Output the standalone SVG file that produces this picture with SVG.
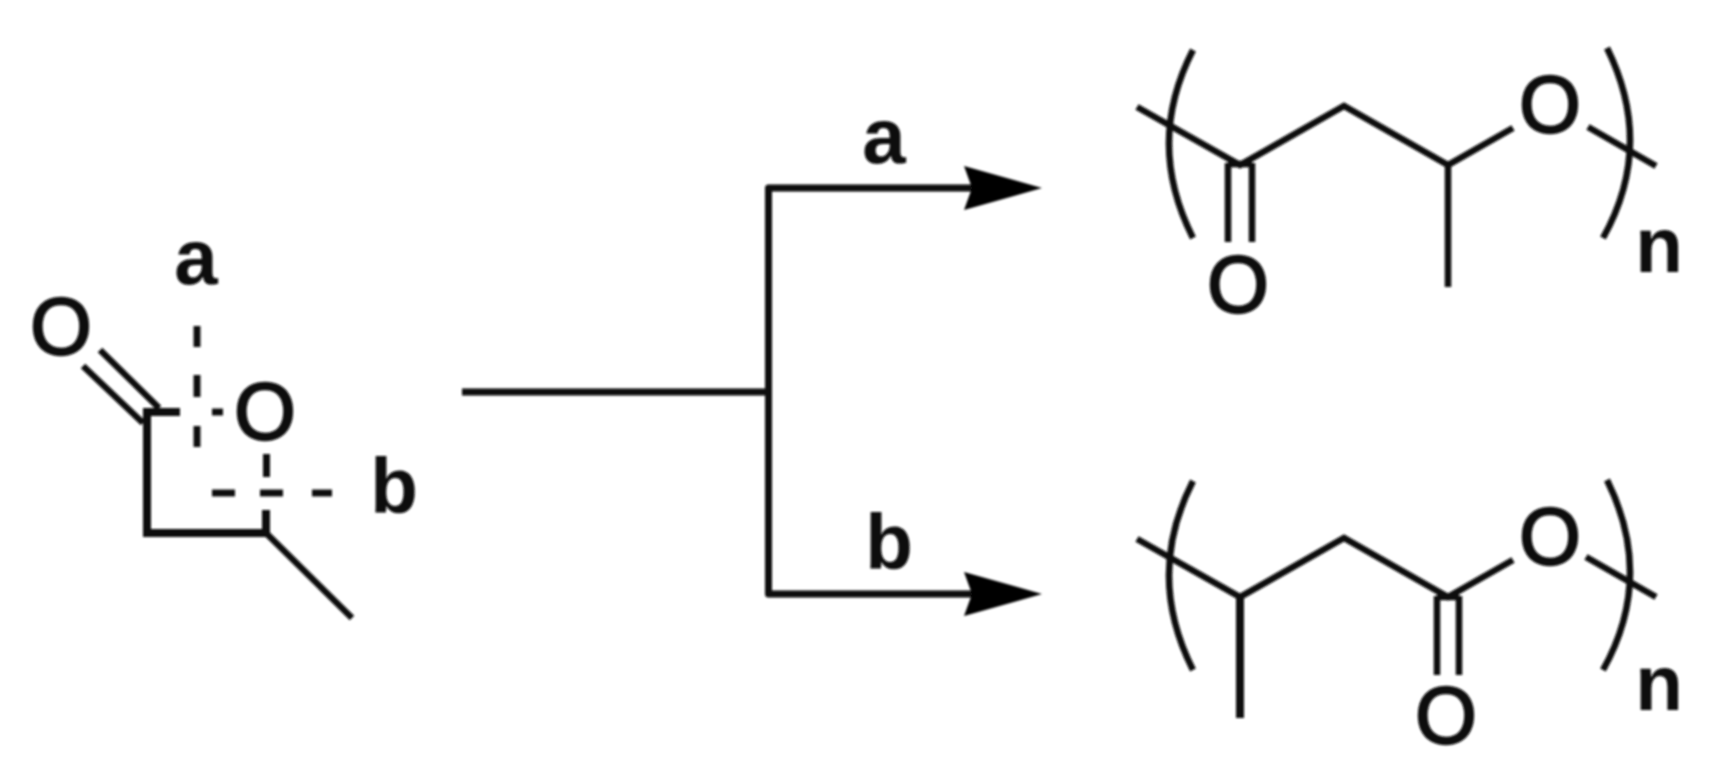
<svg xmlns="http://www.w3.org/2000/svg" width="1735" height="771" viewBox="0 0 1735 771">
<style>
.b{fill:none;stroke:#111;stroke-width:6.500;stroke-linecap:butt;stroke-linejoin:miter}
.w{stroke-width:8}
.d{fill:none;stroke:#111;stroke-width:7}
.c{fill:none;stroke:#0c0c0c;stroke-width:7;stroke-linejoin:round}
text{font-family:"Liberation Sans",Arial,sans-serif;fill:#0c0c0c;font-size:78px}
.o{text-anchor:middle;font-size:79px;stroke:#0c0c0c;stroke-width:2.400}
.l{font-weight:bold;text-anchor:middle}
</style>
<defs>
<filter id="s" x="-5%" y="-5%" width="110%" height="110%"><feGaussianBlur stdDeviation="0.9"/></filter>
<marker id="h" markerUnits="userSpaceOnUse" markerWidth="80" markerHeight="48" refX="8" refY="24" orient="auto"><path d="M0,2 L78,24 L0,46 L8,24 Z" fill="#000"/></marker>
</defs>
<rect width="1735" height="771" fill="#fff"/>
<g filter="url(#s)">
<g id="connectors">
<path class="c" d="M462,392 H768"/>
<path class="c" d="M768.500,392 V188 H972" marker-end="url(#h)"/>
<path class="c" d="M768.500,392 V594 H972" marker-end="url(#h)"/>
</g>
<g id="reactant">
<path class="b" d="M100,350 L159,408 M83,366 L143,423"/>
<path class="b w" d="M180,412 H147 V533 H266 V510"/>
<path class="b" d="M266,533 L352,618"/>
<path class="d" d="M212,412 H223"/>
<text class="o" x="61" y="354">O</text>
<text class="o" x="265" y="439">O</text>
</g>
<g id="cleavage-a">
<path class="d" d="M197,326 V347 M197,375 V397 M197,426 V447"/>
<text class="l" x="196" y="284">a</text>
</g>
<g id="cleavage-b">
<path class="d" d="M266.500,454 V477 M212,493 H235 M260,493 H283 M312,493 H332"/>
<text class="l" x="394" y="513">b</text>
</g>
<g id="label-a"><text class="l" x="884" y="163">a</text></g>
<g id="label-b"><text class="l" x="889" y="569">b</text></g>
<g id="product-a">
<path class="b" d="M1137,107 L1240,165 L1344,106 L1448,165 L1513,128 M1588,127 L1656,166 M1448,165 V287"/>
<path class="b" d="M1228,163 V242 M1252,163 V242 M1228,164 H1252"/>
<path class="b" d="M1193,50 Q1145,143 1193,238 M1607,48 Q1655,145 1603,238"/>
<text class="o" x="1550" y="132">O</text>
<text class="o" x="1238" y="312">O</text>
<text class="l" x="1659" y="272">n</text>
</g>
<g id="product-b">
<path class="b" d="M1137,539 L1240,597 L1344,538 L1448,597 L1513,560 M1586,557 L1656,597"/>
<path class="b w" d="M1240,596 V718"/>
<path class="b" d="M1437,596 V675 M1459,596 V675 M1437,597 H1459"/>
<path class="b" d="M1193,481 Q1145,575 1193,670 M1607,480 Q1655,577 1603,670"/>
<text class="o" x="1550" y="564">O</text>
<text class="o" x="1446" y="743">O</text>
<text class="l" x="1659" y="710">n</text>
</g>
</g>
</svg>
